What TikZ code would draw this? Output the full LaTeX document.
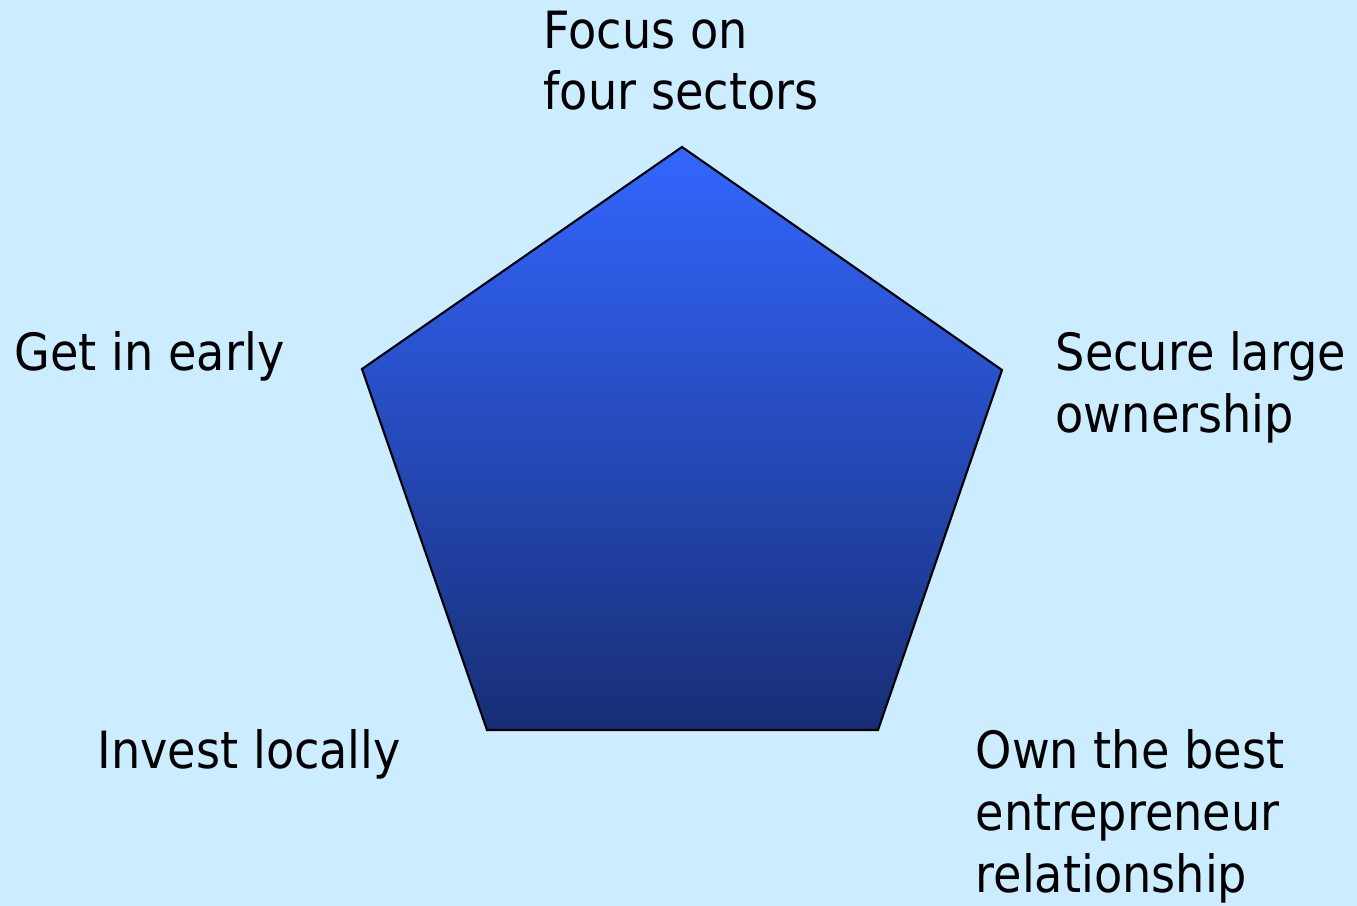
\documentclass[tikz,border=0pt]{standalone}
\usepackage{fontspec}
\setmainfont{DejaVu Sans Condensed}
\usepackage{tikz}
\usetikzlibrary{calc}
\definecolor{bgblue}{HTML}{CCECFF}
\definecolor{pentop}{HTML}{3366FF}
\definecolor{penbottom}{HTML}{172E75}
\tikzstyle{goal}=[anchor=base west,align=left,inner sep=0pt,font=\fontsize{14.6}{17.6}\selectfont]
\tikzstyle{pentagon}=[draw=black,line width=0.6pt,top color=pentop,bottom color=penbottom]

\begin{document}
\begin{tikzpicture}[x=0.01cm,y=-0.01cm]

%background
    \fill[bgblue] (0,0) rectangle (1357,906);
    \useasboundingbox (0,0) rectangle (1357,906);

%pentagon
    \coordinate (ptop) at (682,147);
    \coordinate (pright) at (1002,370);
    \coordinate (plowright) at (878,730);
    \coordinate (plowleft) at (487,730);
    \coordinate (pleft) at (362,369);
    \draw[pentagon] (ptop) -- (pright) -- (plowright) -- (plowleft) -- (pleft) -- cycle;

%goals (base = last line)
    \foreach \pos/\name/\label in {{(543,110)/focus/{Focus on\\four sectors}}, {(14,370)/early/{Get in early}}, {(1055,432)/secure/{Secure large\\ownership}}, {(97,768)/local/{Invest locally}}, {(975,892)/own/{Own the best\\entrepreneur\\relationship}}}
        \node[goal] (\name) at \pos {\label};

\end{tikzpicture}
\end{document}
